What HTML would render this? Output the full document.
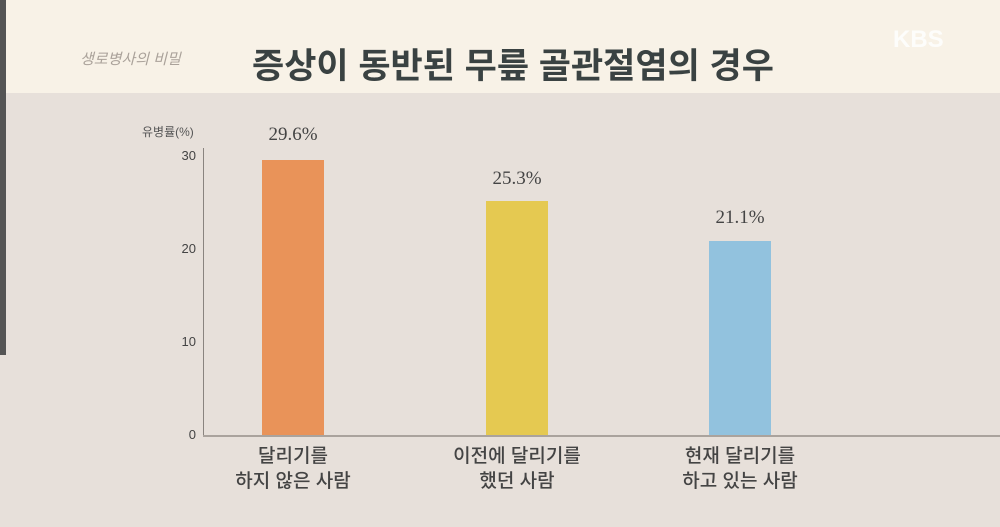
<!DOCTYPE html><html><head><meta charset="utf-8"><style>
body{margin:0;width:1000px;height:527px;overflow:hidden;background:#e7e0da;font-family:"Liberation Sans","Noto Sans CJK KR",sans-serif;position:relative}
.hd{position:absolute;left:0;top:0;width:1000px;height:93px;background:#f8f2e7}
.t{position:absolute;left:252px;top:38px;font-size:35px;font-weight:bold;color:#3a4242;white-space:nowrap}
.s{position:absolute;left:80px;top:48px;font-size:15px;color:#aaa29a;font-style:italic}
.k{position:absolute;left:893px;top:26px;font-size:24px;font-weight:bold;color:#fff;opacity:.85}
.ax{position:absolute;background:#8a847f}
.bar{position:absolute;width:62px}
.v{position:absolute;font-family:"Liberation Serif",serif;font-size:19px;color:#444;width:120px;text-align:center}
.y{position:absolute;font-size:13px;color:#444;width:30px;text-align:right}
.l{position:absolute;font-size:19px;color:#444;width:200px;text-align:center;line-height:25px;font-weight:500}
</style></head><body>
<div class="hd"></div>
<div style="position:absolute;left:0;top:0;width:6px;height:355px;background:#555"></div>
<div class="s">생로병사의 비밀</div>
<div class="t">증상이 동반된 무릎 골관절염의 경우</div>
<div class="k">KBS</div>
<div style="position:absolute;left:142px;top:123px;font-size:12px;color:#555">유병률(%)</div>
<div class="ax" style="left:203px;top:148px;width:1px;height:288px"></div>
<div class="ax" style="left:203px;top:435px;width:797px;height:2px;background:#aaa39d"></div>
<div class="y" style="left:166px;top:148px">30</div>
<div class="y" style="left:166px;top:241px">20</div>
<div class="y" style="left:166px;top:334px">10</div>
<div class="y" style="left:166px;top:427px">0</div>
<div class="bar" style="left:262px;top:160px;height:275px;background:#e99359"></div>
<div class="bar" style="left:486px;top:201px;height:234px;background:#e5c951"></div>
<div class="bar" style="left:709px;top:241px;height:194px;background:#92c2de"></div>
<div class="v" style="left:233px;top:124px">29.6%</div>
<div class="v" style="left:457px;top:168px">25.3%</div>
<div class="v" style="left:680px;top:207px">21.1%</div>
<div class="l" style="left:193px;top:444px">달리기를<br>하지 않은 사람</div>
<div class="l" style="left:417px;top:444px">이전에 달리기를<br>했던 사람</div>
<div class="l" style="left:640px;top:444px">현재 달리기를<br>하고 있는 사람</div>
</body></html>
